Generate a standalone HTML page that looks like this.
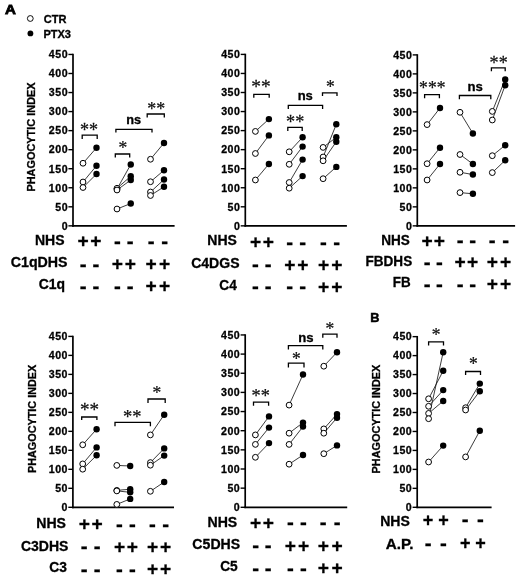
<!DOCTYPE html>
<html><head><meta charset="utf-8"><title>Figure</title>
<style>html,body{margin:0;padding:0;background:#fff}svg{display:block}</style></head>
<body><svg width="520" height="576" viewBox="0 0 520 576">
<defs><filter id="soft" x="0" y="0" width="520" height="576" filterUnits="userSpaceOnUse"><feGaussianBlur stdDeviation="0.4"/></filter></defs>
<rect width="520" height="576" fill="#fff"/>
<g filter="url(#soft)">
<line x1="73.00" y1="53.75" x2="73.00" y2="226.70" stroke="#000" stroke-width="1.7" stroke-linecap="butt"/>
<line x1="72.15" y1="225.85" x2="174.60" y2="225.85" stroke="#000" stroke-width="1.7" stroke-linecap="butt"/>
<line x1="68.40" y1="225.85" x2="73.00" y2="225.85" stroke="#000" stroke-width="1.4" stroke-linecap="butt"/>
<text x="61.64" y="229.65" font-size="10.6" letter-spacing="0.5" font-family="Liberation Sans, Arial, Helvetica, sans-serif" font-weight="bold" fill="#000" stroke="#000" stroke-width="0.3">0</text>
<line x1="68.40" y1="206.81" x2="73.00" y2="206.81" stroke="#000" stroke-width="1.4" stroke-linecap="butt"/>
<text x="55.26" y="210.61" font-size="10.6" letter-spacing="0.5" font-family="Liberation Sans, Arial, Helvetica, sans-serif" font-weight="bold" fill="#000" stroke="#000" stroke-width="0.3">50</text>
<line x1="68.40" y1="187.76" x2="73.00" y2="187.76" stroke="#000" stroke-width="1.4" stroke-linecap="butt"/>
<text x="48.87" y="191.56" font-size="10.6" letter-spacing="0.5" font-family="Liberation Sans, Arial, Helvetica, sans-serif" font-weight="bold" fill="#000" stroke="#000" stroke-width="0.3">100</text>
<line x1="68.40" y1="168.72" x2="73.00" y2="168.72" stroke="#000" stroke-width="1.4" stroke-linecap="butt"/>
<text x="48.87" y="172.52" font-size="10.6" letter-spacing="0.5" font-family="Liberation Sans, Arial, Helvetica, sans-serif" font-weight="bold" fill="#000" stroke="#000" stroke-width="0.3">150</text>
<line x1="68.40" y1="149.67" x2="73.00" y2="149.67" stroke="#000" stroke-width="1.4" stroke-linecap="butt"/>
<text x="48.87" y="153.47" font-size="10.6" letter-spacing="0.5" font-family="Liberation Sans, Arial, Helvetica, sans-serif" font-weight="bold" fill="#000" stroke="#000" stroke-width="0.3">200</text>
<line x1="68.40" y1="130.63" x2="73.00" y2="130.63" stroke="#000" stroke-width="1.4" stroke-linecap="butt"/>
<text x="48.87" y="134.43" font-size="10.6" letter-spacing="0.5" font-family="Liberation Sans, Arial, Helvetica, sans-serif" font-weight="bold" fill="#000" stroke="#000" stroke-width="0.3">250</text>
<line x1="68.40" y1="111.58" x2="73.00" y2="111.58" stroke="#000" stroke-width="1.4" stroke-linecap="butt"/>
<text x="48.87" y="115.38" font-size="10.6" letter-spacing="0.5" font-family="Liberation Sans, Arial, Helvetica, sans-serif" font-weight="bold" fill="#000" stroke="#000" stroke-width="0.3">300</text>
<line x1="68.40" y1="92.54" x2="73.00" y2="92.54" stroke="#000" stroke-width="1.4" stroke-linecap="butt"/>
<text x="48.87" y="96.34" font-size="10.6" letter-spacing="0.5" font-family="Liberation Sans, Arial, Helvetica, sans-serif" font-weight="bold" fill="#000" stroke="#000" stroke-width="0.3">350</text>
<line x1="68.40" y1="73.49" x2="73.00" y2="73.49" stroke="#000" stroke-width="1.4" stroke-linecap="butt"/>
<text x="48.87" y="77.29" font-size="10.6" letter-spacing="0.5" font-family="Liberation Sans, Arial, Helvetica, sans-serif" font-weight="bold" fill="#000" stroke="#000" stroke-width="0.3">400</text>
<line x1="68.40" y1="54.45" x2="73.00" y2="54.45" stroke="#000" stroke-width="1.4" stroke-linecap="butt"/>
<text x="48.87" y="58.25" font-size="10.6" letter-spacing="0.5" font-family="Liberation Sans, Arial, Helvetica, sans-serif" font-weight="bold" fill="#000" stroke="#000" stroke-width="0.3">450</text>
<text transform="translate(35.10,191.61) rotate(-90) scale(1.051,1)" font-size="10.4" font-family="Liberation Sans, Arial, Helvetica, sans-serif" font-weight="bold" fill="#000" stroke="#000" stroke-width="0.3">PHAGOCYTIC INDEX</text>
<line x1="83.00" y1="163.25" x2="96.50" y2="147.75" stroke="#1a1a1a" stroke-width="0.85" stroke-linecap="butt"/>
<line x1="83.00" y1="182.00" x2="96.50" y2="165.75" stroke="#1a1a1a" stroke-width="0.85" stroke-linecap="butt"/>
<line x1="83.00" y1="187.50" x2="96.50" y2="174.00" stroke="#1a1a1a" stroke-width="0.85" stroke-linecap="butt"/>
<circle cx="83.00" cy="163.25" r="2.90" fill="#fff" stroke="#000" stroke-width="1.0"/>
<circle cx="83.00" cy="182.00" r="2.90" fill="#fff" stroke="#000" stroke-width="1.0"/>
<circle cx="83.00" cy="187.50" r="2.90" fill="#fff" stroke="#000" stroke-width="1.0"/>
<circle cx="96.50" cy="147.75" r="3.20" fill="#000"/>
<circle cx="96.50" cy="165.75" r="3.20" fill="#000"/>
<circle cx="96.50" cy="174.00" r="3.20" fill="#000"/>
<line x1="117.00" y1="189.00" x2="130.75" y2="164.50" stroke="#1a1a1a" stroke-width="0.85" stroke-linecap="butt"/>
<line x1="117.00" y1="188.30" x2="130.75" y2="176.25" stroke="#1a1a1a" stroke-width="0.85" stroke-linecap="butt"/>
<line x1="117.00" y1="190.00" x2="130.75" y2="180.00" stroke="#1a1a1a" stroke-width="0.85" stroke-linecap="butt"/>
<line x1="117.00" y1="209.00" x2="130.75" y2="203.50" stroke="#1a1a1a" stroke-width="0.85" stroke-linecap="butt"/>
<circle cx="117.00" cy="189.00" r="2.90" fill="#fff" stroke="#000" stroke-width="1.0"/>
<circle cx="117.00" cy="188.30" r="2.90" fill="#fff" stroke="#000" stroke-width="1.0"/>
<circle cx="117.00" cy="190.00" r="2.90" fill="#fff" stroke="#000" stroke-width="1.0"/>
<circle cx="117.00" cy="209.00" r="2.90" fill="#fff" stroke="#000" stroke-width="1.0"/>
<circle cx="130.75" cy="164.50" r="3.20" fill="#000"/>
<circle cx="130.75" cy="176.25" r="3.20" fill="#000"/>
<circle cx="130.75" cy="180.00" r="3.20" fill="#000"/>
<circle cx="130.75" cy="203.50" r="3.20" fill="#000"/>
<line x1="150.50" y1="159.25" x2="164.00" y2="143.00" stroke="#1a1a1a" stroke-width="0.85" stroke-linecap="butt"/>
<line x1="150.50" y1="181.75" x2="164.00" y2="170.25" stroke="#1a1a1a" stroke-width="0.85" stroke-linecap="butt"/>
<line x1="150.50" y1="192.00" x2="164.00" y2="179.50" stroke="#1a1a1a" stroke-width="0.85" stroke-linecap="butt"/>
<line x1="150.50" y1="195.50" x2="164.00" y2="186.75" stroke="#1a1a1a" stroke-width="0.85" stroke-linecap="butt"/>
<circle cx="150.50" cy="159.25" r="2.90" fill="#fff" stroke="#000" stroke-width="1.0"/>
<circle cx="150.50" cy="181.75" r="2.90" fill="#fff" stroke="#000" stroke-width="1.0"/>
<circle cx="150.50" cy="192.00" r="2.90" fill="#fff" stroke="#000" stroke-width="1.0"/>
<circle cx="150.50" cy="195.50" r="2.90" fill="#fff" stroke="#000" stroke-width="1.0"/>
<circle cx="164.00" cy="143.00" r="3.20" fill="#000"/>
<circle cx="164.00" cy="170.25" r="3.20" fill="#000"/>
<circle cx="164.00" cy="179.50" r="3.20" fill="#000"/>
<circle cx="164.00" cy="186.75" r="3.20" fill="#000"/>
<path d="M82.20,139.00 V135.20 H97.20 V139.00" fill="none" stroke="#000" stroke-width="1.3" stroke-linejoin="miter"/>
<text transform="translate(79.99,136.06) scale(1.006,1)" font-size="18" font-family="Liberation Serif, Times New Roman, serif" fill="#111" stroke="#111" stroke-width="0.25">**</text>
<path d="M115.30,157.60 V154.00 H129.70 V157.60" fill="none" stroke="#000" stroke-width="1.3" stroke-linejoin="miter"/>
<text transform="translate(118.47,153.96) scale(0.972,1)" font-size="18" font-family="Liberation Serif, Times New Roman, serif" fill="#111" stroke="#111" stroke-width="0.25">*</text>
<path d="M115.90,132.60 V129.40 H152.00 V132.60" fill="none" stroke="#000" stroke-width="1.3" stroke-linejoin="miter"/>
<text transform="translate(126.17,123.50) scale(1.061,1)" font-size="12.0" font-family="Liberation Sans, Arial, Helvetica, sans-serif" font-weight="bold" fill="#000" stroke="#000" stroke-width="0.3">ns</text>
<path d="M147.20,117.40 V114.00 H164.30 V117.40" fill="none" stroke="#000" stroke-width="1.3" stroke-linejoin="miter"/>
<text transform="translate(147.31,114.75) scale(0.994,1)" font-size="18" font-family="Liberation Serif, Times New Roman, serif" fill="#111" stroke="#111" stroke-width="0.25">**</text>
<text transform="translate(34.99,244.80) scale(1.009,1)" font-size="13.9" font-family="Liberation Sans, Arial, Helvetica, sans-serif" font-weight="bold" fill="#000" stroke="#000" stroke-width="0.3">NHS</text>
<text transform="translate(10.73,267.30) scale(1.023,1)" font-size="13.9" font-family="Liberation Sans, Arial, Helvetica, sans-serif" font-weight="bold" fill="#000" stroke="#000" stroke-width="0.3">C1qDHS</text>
<text transform="translate(38.64,289.20) scale(1.004,1)" font-size="13.9" font-family="Liberation Sans, Arial, Helvetica, sans-serif" font-weight="bold" fill="#000" stroke="#000" stroke-width="0.3">C1q</text>
<text transform="translate(77.58,247.44) scale(1.000,1)" font-size="19.2" font-family="Liberation Sans, Arial, Helvetica, sans-serif" font-weight="bold" fill="#000" stroke="#000" stroke-width="0.3">+</text>
<text transform="translate(90.28,247.44) scale(1.000,1)" font-size="19.2" font-family="Liberation Sans, Arial, Helvetica, sans-serif" font-weight="bold" fill="#000" stroke="#000" stroke-width="0.3">+</text>
<text transform="translate(113.97,248.03) scale(1.000,1)" font-size="20.5" font-family="Liberation Sans, Arial, Helvetica, sans-serif" font-weight="bold" fill="#000" stroke="#000" stroke-width="0.3">-</text>
<text transform="translate(126.87,248.03) scale(1.000,1)" font-size="20.5" font-family="Liberation Sans, Arial, Helvetica, sans-serif" font-weight="bold" fill="#000" stroke="#000" stroke-width="0.3">-</text>
<text transform="translate(147.77,248.03) scale(1.000,1)" font-size="20.5" font-family="Liberation Sans, Arial, Helvetica, sans-serif" font-weight="bold" fill="#000" stroke="#000" stroke-width="0.3">-</text>
<text transform="translate(161.27,248.03) scale(1.000,1)" font-size="20.5" font-family="Liberation Sans, Arial, Helvetica, sans-serif" font-weight="bold" fill="#000" stroke="#000" stroke-width="0.3">-</text>
<text transform="translate(79.77,270.93) scale(1.000,1)" font-size="20.5" font-family="Liberation Sans, Arial, Helvetica, sans-serif" font-weight="bold" fill="#000" stroke="#000" stroke-width="0.3">-</text>
<text transform="translate(92.47,270.93) scale(1.000,1)" font-size="20.5" font-family="Liberation Sans, Arial, Helvetica, sans-serif" font-weight="bold" fill="#000" stroke="#000" stroke-width="0.3">-</text>
<text transform="translate(111.78,270.34) scale(1.000,1)" font-size="19.2" font-family="Liberation Sans, Arial, Helvetica, sans-serif" font-weight="bold" fill="#000" stroke="#000" stroke-width="0.3">+</text>
<text transform="translate(124.68,270.34) scale(1.000,1)" font-size="19.2" font-family="Liberation Sans, Arial, Helvetica, sans-serif" font-weight="bold" fill="#000" stroke="#000" stroke-width="0.3">+</text>
<text transform="translate(145.58,270.34) scale(1.000,1)" font-size="19.2" font-family="Liberation Sans, Arial, Helvetica, sans-serif" font-weight="bold" fill="#000" stroke="#000" stroke-width="0.3">+</text>
<text transform="translate(159.08,270.34) scale(1.000,1)" font-size="19.2" font-family="Liberation Sans, Arial, Helvetica, sans-serif" font-weight="bold" fill="#000" stroke="#000" stroke-width="0.3">+</text>
<text transform="translate(79.77,292.93) scale(1.000,1)" font-size="20.5" font-family="Liberation Sans, Arial, Helvetica, sans-serif" font-weight="bold" fill="#000" stroke="#000" stroke-width="0.3">-</text>
<text transform="translate(92.47,292.93) scale(1.000,1)" font-size="20.5" font-family="Liberation Sans, Arial, Helvetica, sans-serif" font-weight="bold" fill="#000" stroke="#000" stroke-width="0.3">-</text>
<text transform="translate(113.97,292.93) scale(1.000,1)" font-size="20.5" font-family="Liberation Sans, Arial, Helvetica, sans-serif" font-weight="bold" fill="#000" stroke="#000" stroke-width="0.3">-</text>
<text transform="translate(126.87,292.93) scale(1.000,1)" font-size="20.5" font-family="Liberation Sans, Arial, Helvetica, sans-serif" font-weight="bold" fill="#000" stroke="#000" stroke-width="0.3">-</text>
<text transform="translate(145.58,292.34) scale(1.000,1)" font-size="19.2" font-family="Liberation Sans, Arial, Helvetica, sans-serif" font-weight="bold" fill="#000" stroke="#000" stroke-width="0.3">+</text>
<text transform="translate(159.08,292.34) scale(1.000,1)" font-size="19.2" font-family="Liberation Sans, Arial, Helvetica, sans-serif" font-weight="bold" fill="#000" stroke="#000" stroke-width="0.3">+</text>
<line x1="245.30" y1="53.70" x2="245.30" y2="226.70" stroke="#000" stroke-width="1.7" stroke-linecap="butt"/>
<line x1="244.45" y1="225.85" x2="346.90" y2="225.85" stroke="#000" stroke-width="1.7" stroke-linecap="butt"/>
<line x1="240.70" y1="225.85" x2="245.30" y2="225.85" stroke="#000" stroke-width="1.4" stroke-linecap="butt"/>
<text x="233.94" y="229.65" font-size="10.6" letter-spacing="0.5" font-family="Liberation Sans, Arial, Helvetica, sans-serif" font-weight="bold" fill="#000" stroke="#000" stroke-width="0.3">0</text>
<line x1="240.70" y1="206.80" x2="245.30" y2="206.80" stroke="#000" stroke-width="1.4" stroke-linecap="butt"/>
<text x="227.56" y="210.60" font-size="10.6" letter-spacing="0.5" font-family="Liberation Sans, Arial, Helvetica, sans-serif" font-weight="bold" fill="#000" stroke="#000" stroke-width="0.3">50</text>
<line x1="240.70" y1="187.75" x2="245.30" y2="187.75" stroke="#000" stroke-width="1.4" stroke-linecap="butt"/>
<text x="221.18" y="191.55" font-size="10.6" letter-spacing="0.5" font-family="Liberation Sans, Arial, Helvetica, sans-serif" font-weight="bold" fill="#000" stroke="#000" stroke-width="0.3">100</text>
<line x1="240.70" y1="168.70" x2="245.30" y2="168.70" stroke="#000" stroke-width="1.4" stroke-linecap="butt"/>
<text x="221.18" y="172.50" font-size="10.6" letter-spacing="0.5" font-family="Liberation Sans, Arial, Helvetica, sans-serif" font-weight="bold" fill="#000" stroke="#000" stroke-width="0.3">150</text>
<line x1="240.70" y1="149.65" x2="245.30" y2="149.65" stroke="#000" stroke-width="1.4" stroke-linecap="butt"/>
<text x="221.17" y="153.45" font-size="10.6" letter-spacing="0.5" font-family="Liberation Sans, Arial, Helvetica, sans-serif" font-weight="bold" fill="#000" stroke="#000" stroke-width="0.3">200</text>
<line x1="240.70" y1="130.60" x2="245.30" y2="130.60" stroke="#000" stroke-width="1.4" stroke-linecap="butt"/>
<text x="221.17" y="134.40" font-size="10.6" letter-spacing="0.5" font-family="Liberation Sans, Arial, Helvetica, sans-serif" font-weight="bold" fill="#000" stroke="#000" stroke-width="0.3">250</text>
<line x1="240.70" y1="111.55" x2="245.30" y2="111.55" stroke="#000" stroke-width="1.4" stroke-linecap="butt"/>
<text x="221.18" y="115.35" font-size="10.6" letter-spacing="0.5" font-family="Liberation Sans, Arial, Helvetica, sans-serif" font-weight="bold" fill="#000" stroke="#000" stroke-width="0.3">300</text>
<line x1="240.70" y1="92.50" x2="245.30" y2="92.50" stroke="#000" stroke-width="1.4" stroke-linecap="butt"/>
<text x="221.18" y="96.30" font-size="10.6" letter-spacing="0.5" font-family="Liberation Sans, Arial, Helvetica, sans-serif" font-weight="bold" fill="#000" stroke="#000" stroke-width="0.3">350</text>
<line x1="240.70" y1="73.45" x2="245.30" y2="73.45" stroke="#000" stroke-width="1.4" stroke-linecap="butt"/>
<text x="221.18" y="77.25" font-size="10.6" letter-spacing="0.5" font-family="Liberation Sans, Arial, Helvetica, sans-serif" font-weight="bold" fill="#000" stroke="#000" stroke-width="0.3">400</text>
<line x1="240.70" y1="54.40" x2="245.30" y2="54.40" stroke="#000" stroke-width="1.4" stroke-linecap="butt"/>
<text x="221.18" y="58.20" font-size="10.6" letter-spacing="0.5" font-family="Liberation Sans, Arial, Helvetica, sans-serif" font-weight="bold" fill="#000" stroke="#000" stroke-width="0.3">450</text>
<line x1="255.40" y1="131.40" x2="268.90" y2="119.10" stroke="#1a1a1a" stroke-width="0.85" stroke-linecap="butt"/>
<line x1="255.40" y1="153.50" x2="268.90" y2="135.40" stroke="#1a1a1a" stroke-width="0.85" stroke-linecap="butt"/>
<line x1="255.40" y1="180.00" x2="268.90" y2="164.00" stroke="#1a1a1a" stroke-width="0.85" stroke-linecap="butt"/>
<circle cx="255.40" cy="131.40" r="2.90" fill="#fff" stroke="#000" stroke-width="1.0"/>
<circle cx="255.40" cy="153.50" r="2.90" fill="#fff" stroke="#000" stroke-width="1.0"/>
<circle cx="255.40" cy="180.00" r="2.90" fill="#fff" stroke="#000" stroke-width="1.0"/>
<circle cx="268.90" cy="119.10" r="3.20" fill="#000"/>
<circle cx="268.90" cy="135.40" r="3.20" fill="#000"/>
<circle cx="268.90" cy="164.00" r="3.20" fill="#000"/>
<line x1="289.20" y1="151.80" x2="302.60" y2="137.30" stroke="#1a1a1a" stroke-width="0.85" stroke-linecap="butt"/>
<line x1="289.20" y1="164.30" x2="302.60" y2="146.60" stroke="#1a1a1a" stroke-width="0.85" stroke-linecap="butt"/>
<line x1="289.20" y1="182.50" x2="302.60" y2="159.60" stroke="#1a1a1a" stroke-width="0.85" stroke-linecap="butt"/>
<line x1="289.20" y1="188.20" x2="302.60" y2="176.10" stroke="#1a1a1a" stroke-width="0.85" stroke-linecap="butt"/>
<circle cx="289.20" cy="151.80" r="2.90" fill="#fff" stroke="#000" stroke-width="1.0"/>
<circle cx="289.20" cy="164.30" r="2.90" fill="#fff" stroke="#000" stroke-width="1.0"/>
<circle cx="289.20" cy="182.50" r="2.90" fill="#fff" stroke="#000" stroke-width="1.0"/>
<circle cx="289.20" cy="188.20" r="2.90" fill="#fff" stroke="#000" stroke-width="1.0"/>
<circle cx="302.60" cy="137.30" r="3.20" fill="#000"/>
<circle cx="302.60" cy="146.60" r="3.20" fill="#000"/>
<circle cx="302.60" cy="159.60" r="3.20" fill="#000"/>
<circle cx="302.60" cy="176.10" r="3.20" fill="#000"/>
<line x1="323.10" y1="147.40" x2="336.30" y2="137.30" stroke="#1a1a1a" stroke-width="0.85" stroke-linecap="butt"/>
<line x1="323.10" y1="157.00" x2="336.30" y2="124.30" stroke="#1a1a1a" stroke-width="0.85" stroke-linecap="butt"/>
<line x1="323.10" y1="160.80" x2="336.30" y2="141.70" stroke="#1a1a1a" stroke-width="0.85" stroke-linecap="butt"/>
<line x1="323.10" y1="178.70" x2="336.30" y2="166.90" stroke="#1a1a1a" stroke-width="0.85" stroke-linecap="butt"/>
<circle cx="323.10" cy="147.40" r="2.90" fill="#fff" stroke="#000" stroke-width="1.0"/>
<circle cx="323.10" cy="157.00" r="2.90" fill="#fff" stroke="#000" stroke-width="1.0"/>
<circle cx="323.10" cy="160.80" r="2.90" fill="#fff" stroke="#000" stroke-width="1.0"/>
<circle cx="323.10" cy="178.70" r="2.90" fill="#fff" stroke="#000" stroke-width="1.0"/>
<circle cx="336.30" cy="137.30" r="3.20" fill="#000"/>
<circle cx="336.30" cy="124.30" r="3.20" fill="#000"/>
<circle cx="336.30" cy="141.70" r="3.20" fill="#000"/>
<circle cx="336.30" cy="166.90" r="3.20" fill="#000"/>
<path d="M253.80,97.70 V94.30 H269.20 V97.70" fill="none" stroke="#000" stroke-width="1.3" stroke-linejoin="miter"/>
<text transform="translate(251.33,93.20) scale(1.080,1)" font-size="18" font-family="Liberation Serif, Times New Roman, serif" fill="#111" stroke="#111" stroke-width="0.25">**</text>
<path d="M288.30,109.00 V105.40 H322.60 V109.00" fill="none" stroke="#000" stroke-width="1.3" stroke-linejoin="miter"/>
<text transform="translate(297.65,99.60) scale(1.085,1)" font-size="12.0" font-family="Liberation Sans, Arial, Helvetica, sans-serif" font-weight="bold" fill="#000" stroke="#000" stroke-width="0.3">ns</text>
<path d="M287.80,131.00 V127.30 H302.20 V131.00" fill="none" stroke="#000" stroke-width="1.3" stroke-linejoin="miter"/>
<text transform="translate(286.09,127.56) scale(1.012,1)" font-size="18" font-family="Liberation Serif, Times New Roman, serif" fill="#111" stroke="#111" stroke-width="0.25">**</text>
<path d="M322.50,96.10 V92.80 H337.00 V96.10" fill="none" stroke="#000" stroke-width="1.3" stroke-linejoin="miter"/>
<text transform="translate(325.88,93.20) scale(0.972,1)" font-size="18" font-family="Liberation Serif, Times New Roman, serif" fill="#111" stroke="#111" stroke-width="0.25">*</text>
<text transform="translate(207.29,244.80) scale(1.009,1)" font-size="13.9" font-family="Liberation Sans, Arial, Helvetica, sans-serif" font-weight="bold" fill="#000" stroke="#000" stroke-width="0.3">NHS</text>
<text transform="translate(191.14,267.70) scale(1.012,1)" font-size="13.9" font-family="Liberation Sans, Arial, Helvetica, sans-serif" font-weight="bold" fill="#000" stroke="#000" stroke-width="0.3">C4DGS</text>
<text transform="translate(219.35,289.50) scale(0.983,1)" font-size="13.9" font-family="Liberation Sans, Arial, Helvetica, sans-serif" font-weight="bold" fill="#000" stroke="#000" stroke-width="0.3">C4</text>
<text transform="translate(249.88,247.94) scale(1.000,1)" font-size="19.2" font-family="Liberation Sans, Arial, Helvetica, sans-serif" font-weight="bold" fill="#000" stroke="#000" stroke-width="0.3">+</text>
<text transform="translate(262.68,247.94) scale(1.000,1)" font-size="19.2" font-family="Liberation Sans, Arial, Helvetica, sans-serif" font-weight="bold" fill="#000" stroke="#000" stroke-width="0.3">+</text>
<text transform="translate(286.37,248.53) scale(1.000,1)" font-size="20.5" font-family="Liberation Sans, Arial, Helvetica, sans-serif" font-weight="bold" fill="#000" stroke="#000" stroke-width="0.3">-</text>
<text transform="translate(299.37,248.53) scale(1.000,1)" font-size="20.5" font-family="Liberation Sans, Arial, Helvetica, sans-serif" font-weight="bold" fill="#000" stroke="#000" stroke-width="0.3">-</text>
<text transform="translate(320.07,248.53) scale(1.000,1)" font-size="20.5" font-family="Liberation Sans, Arial, Helvetica, sans-serif" font-weight="bold" fill="#000" stroke="#000" stroke-width="0.3">-</text>
<text transform="translate(333.37,248.53) scale(1.000,1)" font-size="20.5" font-family="Liberation Sans, Arial, Helvetica, sans-serif" font-weight="bold" fill="#000" stroke="#000" stroke-width="0.3">-</text>
<text transform="translate(252.07,271.43) scale(1.000,1)" font-size="20.5" font-family="Liberation Sans, Arial, Helvetica, sans-serif" font-weight="bold" fill="#000" stroke="#000" stroke-width="0.3">-</text>
<text transform="translate(264.87,271.43) scale(1.000,1)" font-size="20.5" font-family="Liberation Sans, Arial, Helvetica, sans-serif" font-weight="bold" fill="#000" stroke="#000" stroke-width="0.3">-</text>
<text transform="translate(284.18,270.84) scale(1.000,1)" font-size="19.2" font-family="Liberation Sans, Arial, Helvetica, sans-serif" font-weight="bold" fill="#000" stroke="#000" stroke-width="0.3">+</text>
<text transform="translate(297.18,270.84) scale(1.000,1)" font-size="19.2" font-family="Liberation Sans, Arial, Helvetica, sans-serif" font-weight="bold" fill="#000" stroke="#000" stroke-width="0.3">+</text>
<text transform="translate(317.88,270.84) scale(1.000,1)" font-size="19.2" font-family="Liberation Sans, Arial, Helvetica, sans-serif" font-weight="bold" fill="#000" stroke="#000" stroke-width="0.3">+</text>
<text transform="translate(331.18,270.84) scale(1.000,1)" font-size="19.2" font-family="Liberation Sans, Arial, Helvetica, sans-serif" font-weight="bold" fill="#000" stroke="#000" stroke-width="0.3">+</text>
<text transform="translate(252.07,293.43) scale(1.000,1)" font-size="20.5" font-family="Liberation Sans, Arial, Helvetica, sans-serif" font-weight="bold" fill="#000" stroke="#000" stroke-width="0.3">-</text>
<text transform="translate(264.87,293.43) scale(1.000,1)" font-size="20.5" font-family="Liberation Sans, Arial, Helvetica, sans-serif" font-weight="bold" fill="#000" stroke="#000" stroke-width="0.3">-</text>
<text transform="translate(286.37,293.43) scale(1.000,1)" font-size="20.5" font-family="Liberation Sans, Arial, Helvetica, sans-serif" font-weight="bold" fill="#000" stroke="#000" stroke-width="0.3">-</text>
<text transform="translate(299.37,293.43) scale(1.000,1)" font-size="20.5" font-family="Liberation Sans, Arial, Helvetica, sans-serif" font-weight="bold" fill="#000" stroke="#000" stroke-width="0.3">-</text>
<text transform="translate(317.88,292.84) scale(1.000,1)" font-size="19.2" font-family="Liberation Sans, Arial, Helvetica, sans-serif" font-weight="bold" fill="#000" stroke="#000" stroke-width="0.3">+</text>
<text transform="translate(331.18,292.84) scale(1.000,1)" font-size="19.2" font-family="Liberation Sans, Arial, Helvetica, sans-serif" font-weight="bold" fill="#000" stroke="#000" stroke-width="0.3">+</text>
<line x1="417.30" y1="54.20" x2="417.30" y2="226.70" stroke="#000" stroke-width="1.7" stroke-linecap="butt"/>
<line x1="416.45" y1="225.85" x2="515.10" y2="225.85" stroke="#000" stroke-width="1.7" stroke-linecap="butt"/>
<line x1="412.70" y1="225.85" x2="417.30" y2="225.85" stroke="#000" stroke-width="1.4" stroke-linecap="butt"/>
<text x="405.94" y="229.65" font-size="10.6" letter-spacing="0.5" font-family="Liberation Sans, Arial, Helvetica, sans-serif" font-weight="bold" fill="#000" stroke="#000" stroke-width="0.3">0</text>
<line x1="412.70" y1="206.86" x2="417.30" y2="206.86" stroke="#000" stroke-width="1.4" stroke-linecap="butt"/>
<text x="399.56" y="210.66" font-size="10.6" letter-spacing="0.5" font-family="Liberation Sans, Arial, Helvetica, sans-serif" font-weight="bold" fill="#000" stroke="#000" stroke-width="0.3">50</text>
<line x1="412.70" y1="187.86" x2="417.30" y2="187.86" stroke="#000" stroke-width="1.4" stroke-linecap="butt"/>
<text x="393.18" y="191.66" font-size="10.6" letter-spacing="0.5" font-family="Liberation Sans, Arial, Helvetica, sans-serif" font-weight="bold" fill="#000" stroke="#000" stroke-width="0.3">100</text>
<line x1="412.70" y1="168.87" x2="417.30" y2="168.87" stroke="#000" stroke-width="1.4" stroke-linecap="butt"/>
<text x="393.18" y="172.67" font-size="10.6" letter-spacing="0.5" font-family="Liberation Sans, Arial, Helvetica, sans-serif" font-weight="bold" fill="#000" stroke="#000" stroke-width="0.3">150</text>
<line x1="412.70" y1="149.87" x2="417.30" y2="149.87" stroke="#000" stroke-width="1.4" stroke-linecap="butt"/>
<text x="393.18" y="153.67" font-size="10.6" letter-spacing="0.5" font-family="Liberation Sans, Arial, Helvetica, sans-serif" font-weight="bold" fill="#000" stroke="#000" stroke-width="0.3">200</text>
<line x1="412.70" y1="130.88" x2="417.30" y2="130.88" stroke="#000" stroke-width="1.4" stroke-linecap="butt"/>
<text x="393.18" y="134.68" font-size="10.6" letter-spacing="0.5" font-family="Liberation Sans, Arial, Helvetica, sans-serif" font-weight="bold" fill="#000" stroke="#000" stroke-width="0.3">250</text>
<line x1="412.70" y1="111.88" x2="417.30" y2="111.88" stroke="#000" stroke-width="1.4" stroke-linecap="butt"/>
<text x="393.18" y="115.68" font-size="10.6" letter-spacing="0.5" font-family="Liberation Sans, Arial, Helvetica, sans-serif" font-weight="bold" fill="#000" stroke="#000" stroke-width="0.3">300</text>
<line x1="412.70" y1="92.89" x2="417.30" y2="92.89" stroke="#000" stroke-width="1.4" stroke-linecap="butt"/>
<text x="393.18" y="96.69" font-size="10.6" letter-spacing="0.5" font-family="Liberation Sans, Arial, Helvetica, sans-serif" font-weight="bold" fill="#000" stroke="#000" stroke-width="0.3">350</text>
<line x1="412.70" y1="73.89" x2="417.30" y2="73.89" stroke="#000" stroke-width="1.4" stroke-linecap="butt"/>
<text x="393.18" y="77.69" font-size="10.6" letter-spacing="0.5" font-family="Liberation Sans, Arial, Helvetica, sans-serif" font-weight="bold" fill="#000" stroke="#000" stroke-width="0.3">400</text>
<line x1="412.70" y1="54.90" x2="417.30" y2="54.90" stroke="#000" stroke-width="1.4" stroke-linecap="butt"/>
<text x="393.18" y="58.70" font-size="10.6" letter-spacing="0.5" font-family="Liberation Sans, Arial, Helvetica, sans-serif" font-weight="bold" fill="#000" stroke="#000" stroke-width="0.3">450</text>
<line x1="427.10" y1="124.60" x2="440.00" y2="108.00" stroke="#1a1a1a" stroke-width="0.85" stroke-linecap="butt"/>
<line x1="427.10" y1="163.70" x2="440.00" y2="147.70" stroke="#1a1a1a" stroke-width="0.85" stroke-linecap="butt"/>
<line x1="427.10" y1="180.00" x2="440.00" y2="164.00" stroke="#1a1a1a" stroke-width="0.85" stroke-linecap="butt"/>
<circle cx="427.10" cy="124.60" r="2.90" fill="#fff" stroke="#000" stroke-width="1.0"/>
<circle cx="427.10" cy="163.70" r="2.90" fill="#fff" stroke="#000" stroke-width="1.0"/>
<circle cx="427.10" cy="180.00" r="2.90" fill="#fff" stroke="#000" stroke-width="1.0"/>
<circle cx="440.00" cy="108.00" r="3.20" fill="#000"/>
<circle cx="440.00" cy="147.70" r="3.20" fill="#000"/>
<circle cx="440.00" cy="164.00" r="3.20" fill="#000"/>
<line x1="460.00" y1="112.30" x2="472.90" y2="133.50" stroke="#1a1a1a" stroke-width="0.85" stroke-linecap="butt"/>
<line x1="460.00" y1="154.50" x2="472.90" y2="164.00" stroke="#1a1a1a" stroke-width="0.85" stroke-linecap="butt"/>
<line x1="460.00" y1="172.30" x2="472.90" y2="174.50" stroke="#1a1a1a" stroke-width="0.85" stroke-linecap="butt"/>
<line x1="460.00" y1="192.60" x2="472.90" y2="193.80" stroke="#1a1a1a" stroke-width="0.85" stroke-linecap="butt"/>
<circle cx="460.00" cy="112.30" r="2.90" fill="#fff" stroke="#000" stroke-width="1.0"/>
<circle cx="460.00" cy="154.50" r="2.90" fill="#fff" stroke="#000" stroke-width="1.0"/>
<circle cx="460.00" cy="172.30" r="2.90" fill="#fff" stroke="#000" stroke-width="1.0"/>
<circle cx="460.00" cy="192.60" r="2.90" fill="#fff" stroke="#000" stroke-width="1.0"/>
<circle cx="472.90" cy="133.50" r="3.20" fill="#000"/>
<circle cx="472.90" cy="164.00" r="3.20" fill="#000"/>
<circle cx="472.90" cy="174.50" r="3.20" fill="#000"/>
<circle cx="472.90" cy="193.80" r="3.20" fill="#000"/>
<line x1="492.30" y1="111.40" x2="505.20" y2="79.40" stroke="#1a1a1a" stroke-width="0.85" stroke-linecap="butt"/>
<line x1="492.30" y1="120.00" x2="505.20" y2="85.20" stroke="#1a1a1a" stroke-width="0.85" stroke-linecap="butt"/>
<line x1="492.30" y1="155.70" x2="505.20" y2="145.20" stroke="#1a1a1a" stroke-width="0.85" stroke-linecap="butt"/>
<line x1="492.30" y1="172.60" x2="505.20" y2="160.30" stroke="#1a1a1a" stroke-width="0.85" stroke-linecap="butt"/>
<circle cx="492.30" cy="111.40" r="2.90" fill="#fff" stroke="#000" stroke-width="1.0"/>
<circle cx="492.30" cy="120.00" r="2.90" fill="#fff" stroke="#000" stroke-width="1.0"/>
<circle cx="492.30" cy="155.70" r="2.90" fill="#fff" stroke="#000" stroke-width="1.0"/>
<circle cx="492.30" cy="172.60" r="2.90" fill="#fff" stroke="#000" stroke-width="1.0"/>
<circle cx="505.20" cy="79.40" r="3.20" fill="#000"/>
<circle cx="505.20" cy="85.20" r="3.20" fill="#000"/>
<circle cx="505.20" cy="145.20" r="3.20" fill="#000"/>
<circle cx="505.20" cy="160.30" r="3.20" fill="#000"/>
<path d="M424.60,98.20 V94.60 H439.40 V98.20" fill="none" stroke="#000" stroke-width="1.3" stroke-linejoin="miter"/>
<text transform="translate(419.12,94.46) scale(0.976,1)" font-size="18" font-family="Liberation Serif, Times New Roman, serif" fill="#111" stroke="#111" stroke-width="0.25">***</text>
<path d="M459.40,99.20 V95.50 H490.80 V99.20" fill="none" stroke="#000" stroke-width="1.3" stroke-linejoin="miter"/>
<text transform="translate(467.45,91.20) scale(1.093,1)" font-size="12.0" font-family="Liberation Sans, Arial, Helvetica, sans-serif" font-weight="bold" fill="#000" stroke="#000" stroke-width="0.3">ns</text>
<path d="M491.40,71.20 V67.80 H505.20 V71.20" fill="none" stroke="#000" stroke-width="1.3" stroke-linejoin="miter"/>
<text transform="translate(489.59,68.86) scale(1.006,1)" font-size="18" font-family="Liberation Serif, Times New Roman, serif" fill="#111" stroke="#111" stroke-width="0.25">**</text>
<text transform="translate(381.22,244.70) scale(0.977,1)" font-size="13.9" font-family="Liberation Sans, Arial, Helvetica, sans-serif" font-weight="bold" fill="#000" stroke="#000" stroke-width="0.3">NHS</text>
<text transform="translate(365.52,266.20) scale(0.976,1)" font-size="13.9" font-family="Liberation Sans, Arial, Helvetica, sans-serif" font-weight="bold" fill="#000" stroke="#000" stroke-width="0.3">FBDHS</text>
<text transform="translate(392.83,287.20) scale(0.967,1)" font-size="13.9" font-family="Liberation Sans, Arial, Helvetica, sans-serif" font-weight="bold" fill="#000" stroke="#000" stroke-width="0.3">FB</text>
<text transform="translate(421.58,246.74) scale(1.000,1)" font-size="19.2" font-family="Liberation Sans, Arial, Helvetica, sans-serif" font-weight="bold" fill="#000" stroke="#000" stroke-width="0.3">+</text>
<text transform="translate(433.78,246.74) scale(1.000,1)" font-size="19.2" font-family="Liberation Sans, Arial, Helvetica, sans-serif" font-weight="bold" fill="#000" stroke="#000" stroke-width="0.3">+</text>
<text transform="translate(456.67,247.33) scale(1.000,1)" font-size="20.5" font-family="Liberation Sans, Arial, Helvetica, sans-serif" font-weight="bold" fill="#000" stroke="#000" stroke-width="0.3">-</text>
<text transform="translate(469.17,247.33) scale(1.000,1)" font-size="20.5" font-family="Liberation Sans, Arial, Helvetica, sans-serif" font-weight="bold" fill="#000" stroke="#000" stroke-width="0.3">-</text>
<text transform="translate(488.87,247.33) scale(1.000,1)" font-size="20.5" font-family="Liberation Sans, Arial, Helvetica, sans-serif" font-weight="bold" fill="#000" stroke="#000" stroke-width="0.3">-</text>
<text transform="translate(502.17,247.33) scale(1.000,1)" font-size="20.5" font-family="Liberation Sans, Arial, Helvetica, sans-serif" font-weight="bold" fill="#000" stroke="#000" stroke-width="0.3">-</text>
<text transform="translate(423.77,268.93) scale(1.000,1)" font-size="20.5" font-family="Liberation Sans, Arial, Helvetica, sans-serif" font-weight="bold" fill="#000" stroke="#000" stroke-width="0.3">-</text>
<text transform="translate(435.97,268.93) scale(1.000,1)" font-size="20.5" font-family="Liberation Sans, Arial, Helvetica, sans-serif" font-weight="bold" fill="#000" stroke="#000" stroke-width="0.3">-</text>
<text transform="translate(454.48,268.34) scale(1.000,1)" font-size="19.2" font-family="Liberation Sans, Arial, Helvetica, sans-serif" font-weight="bold" fill="#000" stroke="#000" stroke-width="0.3">+</text>
<text transform="translate(466.98,268.34) scale(1.000,1)" font-size="19.2" font-family="Liberation Sans, Arial, Helvetica, sans-serif" font-weight="bold" fill="#000" stroke="#000" stroke-width="0.3">+</text>
<text transform="translate(486.68,268.34) scale(1.000,1)" font-size="19.2" font-family="Liberation Sans, Arial, Helvetica, sans-serif" font-weight="bold" fill="#000" stroke="#000" stroke-width="0.3">+</text>
<text transform="translate(499.98,268.34) scale(1.000,1)" font-size="19.2" font-family="Liberation Sans, Arial, Helvetica, sans-serif" font-weight="bold" fill="#000" stroke="#000" stroke-width="0.3">+</text>
<text transform="translate(423.77,290.73) scale(1.000,1)" font-size="20.5" font-family="Liberation Sans, Arial, Helvetica, sans-serif" font-weight="bold" fill="#000" stroke="#000" stroke-width="0.3">-</text>
<text transform="translate(435.97,290.73) scale(1.000,1)" font-size="20.5" font-family="Liberation Sans, Arial, Helvetica, sans-serif" font-weight="bold" fill="#000" stroke="#000" stroke-width="0.3">-</text>
<text transform="translate(456.67,290.73) scale(1.000,1)" font-size="20.5" font-family="Liberation Sans, Arial, Helvetica, sans-serif" font-weight="bold" fill="#000" stroke="#000" stroke-width="0.3">-</text>
<text transform="translate(469.17,290.73) scale(1.000,1)" font-size="20.5" font-family="Liberation Sans, Arial, Helvetica, sans-serif" font-weight="bold" fill="#000" stroke="#000" stroke-width="0.3">-</text>
<text transform="translate(486.68,290.14) scale(1.000,1)" font-size="19.2" font-family="Liberation Sans, Arial, Helvetica, sans-serif" font-weight="bold" fill="#000" stroke="#000" stroke-width="0.3">+</text>
<text transform="translate(499.98,290.14) scale(1.000,1)" font-size="19.2" font-family="Liberation Sans, Arial, Helvetica, sans-serif" font-weight="bold" fill="#000" stroke="#000" stroke-width="0.3">+</text>
<line x1="72.90" y1="335.70" x2="72.90" y2="508.15" stroke="#000" stroke-width="1.7" stroke-linecap="butt"/>
<line x1="72.05" y1="507.30" x2="174.00" y2="507.30" stroke="#000" stroke-width="1.7" stroke-linecap="butt"/>
<line x1="68.30" y1="507.30" x2="72.90" y2="507.30" stroke="#000" stroke-width="1.4" stroke-linecap="butt"/>
<text x="61.54" y="511.10" font-size="10.6" letter-spacing="0.5" font-family="Liberation Sans, Arial, Helvetica, sans-serif" font-weight="bold" fill="#000" stroke="#000" stroke-width="0.3">0</text>
<line x1="68.30" y1="488.31" x2="72.90" y2="488.31" stroke="#000" stroke-width="1.4" stroke-linecap="butt"/>
<text x="55.16" y="492.11" font-size="10.6" letter-spacing="0.5" font-family="Liberation Sans, Arial, Helvetica, sans-serif" font-weight="bold" fill="#000" stroke="#000" stroke-width="0.3">50</text>
<line x1="68.30" y1="469.32" x2="72.90" y2="469.32" stroke="#000" stroke-width="1.4" stroke-linecap="butt"/>
<text x="48.77" y="473.12" font-size="10.6" letter-spacing="0.5" font-family="Liberation Sans, Arial, Helvetica, sans-serif" font-weight="bold" fill="#000" stroke="#000" stroke-width="0.3">100</text>
<line x1="68.30" y1="450.33" x2="72.90" y2="450.33" stroke="#000" stroke-width="1.4" stroke-linecap="butt"/>
<text x="48.77" y="454.13" font-size="10.6" letter-spacing="0.5" font-family="Liberation Sans, Arial, Helvetica, sans-serif" font-weight="bold" fill="#000" stroke="#000" stroke-width="0.3">150</text>
<line x1="68.30" y1="431.34" x2="72.90" y2="431.34" stroke="#000" stroke-width="1.4" stroke-linecap="butt"/>
<text x="48.77" y="435.14" font-size="10.6" letter-spacing="0.5" font-family="Liberation Sans, Arial, Helvetica, sans-serif" font-weight="bold" fill="#000" stroke="#000" stroke-width="0.3">200</text>
<line x1="68.30" y1="412.36" x2="72.90" y2="412.36" stroke="#000" stroke-width="1.4" stroke-linecap="butt"/>
<text x="48.77" y="416.16" font-size="10.6" letter-spacing="0.5" font-family="Liberation Sans, Arial, Helvetica, sans-serif" font-weight="bold" fill="#000" stroke="#000" stroke-width="0.3">250</text>
<line x1="68.30" y1="393.37" x2="72.90" y2="393.37" stroke="#000" stroke-width="1.4" stroke-linecap="butt"/>
<text x="48.77" y="397.17" font-size="10.6" letter-spacing="0.5" font-family="Liberation Sans, Arial, Helvetica, sans-serif" font-weight="bold" fill="#000" stroke="#000" stroke-width="0.3">300</text>
<line x1="68.30" y1="374.38" x2="72.90" y2="374.38" stroke="#000" stroke-width="1.4" stroke-linecap="butt"/>
<text x="48.77" y="378.18" font-size="10.6" letter-spacing="0.5" font-family="Liberation Sans, Arial, Helvetica, sans-serif" font-weight="bold" fill="#000" stroke="#000" stroke-width="0.3">350</text>
<line x1="68.30" y1="355.39" x2="72.90" y2="355.39" stroke="#000" stroke-width="1.4" stroke-linecap="butt"/>
<text x="48.77" y="359.19" font-size="10.6" letter-spacing="0.5" font-family="Liberation Sans, Arial, Helvetica, sans-serif" font-weight="bold" fill="#000" stroke="#000" stroke-width="0.3">400</text>
<line x1="68.30" y1="336.40" x2="72.90" y2="336.40" stroke="#000" stroke-width="1.4" stroke-linecap="butt"/>
<text x="48.77" y="340.20" font-size="10.6" letter-spacing="0.5" font-family="Liberation Sans, Arial, Helvetica, sans-serif" font-weight="bold" fill="#000" stroke="#000" stroke-width="0.3">450</text>
<text transform="translate(36.00,473.01) rotate(-90) scale(1.043,1)" font-size="10.4" font-family="Liberation Sans, Arial, Helvetica, sans-serif" font-weight="bold" fill="#000" stroke="#000" stroke-width="0.3">PHAGOCYTIC INDEX</text>
<line x1="82.70" y1="444.80" x2="96.60" y2="429.20" stroke="#1a1a1a" stroke-width="0.85" stroke-linecap="butt"/>
<line x1="82.70" y1="463.90" x2="96.60" y2="447.40" stroke="#1a1a1a" stroke-width="0.85" stroke-linecap="butt"/>
<line x1="82.70" y1="469.20" x2="96.60" y2="455.30" stroke="#1a1a1a" stroke-width="0.85" stroke-linecap="butt"/>
<circle cx="82.70" cy="444.80" r="2.90" fill="#fff" stroke="#000" stroke-width="1.0"/>
<circle cx="82.70" cy="463.90" r="2.90" fill="#fff" stroke="#000" stroke-width="1.0"/>
<circle cx="82.70" cy="469.20" r="2.90" fill="#fff" stroke="#000" stroke-width="1.0"/>
<circle cx="96.60" cy="429.20" r="3.20" fill="#000"/>
<circle cx="96.60" cy="447.40" r="3.20" fill="#000"/>
<circle cx="96.60" cy="455.30" r="3.20" fill="#000"/>
<line x1="116.80" y1="465.40" x2="130.20" y2="466.00" stroke="#1a1a1a" stroke-width="0.85" stroke-linecap="butt"/>
<line x1="116.80" y1="490.40" x2="130.20" y2="489.20" stroke="#1a1a1a" stroke-width="0.85" stroke-linecap="butt"/>
<line x1="116.80" y1="490.90" x2="130.20" y2="492.30" stroke="#1a1a1a" stroke-width="0.85" stroke-linecap="butt"/>
<line x1="116.80" y1="504.40" x2="130.20" y2="498.90" stroke="#1a1a1a" stroke-width="0.85" stroke-linecap="butt"/>
<circle cx="116.80" cy="465.40" r="2.90" fill="#fff" stroke="#000" stroke-width="1.0"/>
<circle cx="116.80" cy="490.40" r="2.90" fill="#fff" stroke="#000" stroke-width="1.0"/>
<circle cx="116.80" cy="490.90" r="2.90" fill="#fff" stroke="#000" stroke-width="1.0"/>
<circle cx="116.80" cy="504.40" r="2.90" fill="#fff" stroke="#000" stroke-width="1.0"/>
<circle cx="130.20" cy="466.00" r="3.20" fill="#000"/>
<circle cx="130.20" cy="489.20" r="3.20" fill="#000"/>
<circle cx="130.20" cy="492.30" r="3.20" fill="#000"/>
<circle cx="130.20" cy="498.90" r="3.20" fill="#000"/>
<line x1="150.40" y1="434.90" x2="164.20" y2="414.70" stroke="#1a1a1a" stroke-width="0.85" stroke-linecap="butt"/>
<line x1="150.40" y1="462.60" x2="164.20" y2="448.40" stroke="#1a1a1a" stroke-width="0.85" stroke-linecap="butt"/>
<line x1="150.40" y1="465.20" x2="164.20" y2="455.60" stroke="#1a1a1a" stroke-width="0.85" stroke-linecap="butt"/>
<line x1="150.40" y1="491.30" x2="164.20" y2="482.00" stroke="#1a1a1a" stroke-width="0.85" stroke-linecap="butt"/>
<circle cx="150.40" cy="434.90" r="2.90" fill="#fff" stroke="#000" stroke-width="1.0"/>
<circle cx="150.40" cy="462.60" r="2.90" fill="#fff" stroke="#000" stroke-width="1.0"/>
<circle cx="150.40" cy="465.20" r="2.90" fill="#fff" stroke="#000" stroke-width="1.0"/>
<circle cx="150.40" cy="491.30" r="2.90" fill="#fff" stroke="#000" stroke-width="1.0"/>
<circle cx="164.20" cy="414.70" r="3.20" fill="#000"/>
<circle cx="164.20" cy="448.40" r="3.20" fill="#000"/>
<circle cx="164.20" cy="455.60" r="3.20" fill="#000"/>
<circle cx="164.20" cy="482.00" r="3.20" fill="#000"/>
<path d="M81.70,420.10 V417.00 H96.90 V420.10" fill="none" stroke="#000" stroke-width="1.3" stroke-linejoin="miter"/>
<text transform="translate(80.04,415.85) scale(1.062,1)" font-size="18" font-family="Liberation Serif, Times New Roman, serif" fill="#111" stroke="#111" stroke-width="0.25">**</text>
<path d="M115.00,426.30 V422.40 H150.40 V426.30" fill="none" stroke="#000" stroke-width="1.3" stroke-linejoin="miter"/>
<text transform="translate(123.08,422.95) scale(1.025,1)" font-size="18" font-family="Liberation Serif, Times New Roman, serif" fill="#111" stroke="#111" stroke-width="0.25">**</text>
<path d="M148.00,402.90 V399.00 H165.20 V402.90" fill="none" stroke="#000" stroke-width="1.3" stroke-linejoin="miter"/>
<text transform="translate(152.48,399.25) scale(0.972,1)" font-size="18" font-family="Liberation Serif, Times New Roman, serif" fill="#111" stroke="#111" stroke-width="0.25">*</text>
<text transform="translate(36.18,528.00) scale(1.017,1)" font-size="13.9" font-family="Liberation Sans, Arial, Helvetica, sans-serif" font-weight="bold" fill="#000" stroke="#000" stroke-width="0.3">NHS</text>
<text transform="translate(20.94,550.70) scale(1.009,1)" font-size="13.9" font-family="Liberation Sans, Arial, Helvetica, sans-serif" font-weight="bold" fill="#000" stroke="#000" stroke-width="0.3">C3DHS</text>
<text transform="translate(49.15,572.10) scale(0.995,1)" font-size="13.9" font-family="Liberation Sans, Arial, Helvetica, sans-serif" font-weight="bold" fill="#000" stroke="#000" stroke-width="0.3">C3</text>
<text transform="translate(78.68,530.34) scale(1.000,1)" font-size="19.2" font-family="Liberation Sans, Arial, Helvetica, sans-serif" font-weight="bold" fill="#000" stroke="#000" stroke-width="0.3">+</text>
<text transform="translate(91.48,530.34) scale(1.000,1)" font-size="19.2" font-family="Liberation Sans, Arial, Helvetica, sans-serif" font-weight="bold" fill="#000" stroke="#000" stroke-width="0.3">+</text>
<text transform="translate(116.07,530.93) scale(1.000,1)" font-size="20.5" font-family="Liberation Sans, Arial, Helvetica, sans-serif" font-weight="bold" fill="#000" stroke="#000" stroke-width="0.3">-</text>
<text transform="translate(128.97,530.93) scale(1.000,1)" font-size="20.5" font-family="Liberation Sans, Arial, Helvetica, sans-serif" font-weight="bold" fill="#000" stroke="#000" stroke-width="0.3">-</text>
<text transform="translate(149.07,530.93) scale(1.000,1)" font-size="20.5" font-family="Liberation Sans, Arial, Helvetica, sans-serif" font-weight="bold" fill="#000" stroke="#000" stroke-width="0.3">-</text>
<text transform="translate(162.17,530.93) scale(1.000,1)" font-size="20.5" font-family="Liberation Sans, Arial, Helvetica, sans-serif" font-weight="bold" fill="#000" stroke="#000" stroke-width="0.3">-</text>
<text transform="translate(80.87,553.33) scale(1.000,1)" font-size="20.5" font-family="Liberation Sans, Arial, Helvetica, sans-serif" font-weight="bold" fill="#000" stroke="#000" stroke-width="0.3">-</text>
<text transform="translate(93.67,553.33) scale(1.000,1)" font-size="20.5" font-family="Liberation Sans, Arial, Helvetica, sans-serif" font-weight="bold" fill="#000" stroke="#000" stroke-width="0.3">-</text>
<text transform="translate(113.88,552.74) scale(1.000,1)" font-size="19.2" font-family="Liberation Sans, Arial, Helvetica, sans-serif" font-weight="bold" fill="#000" stroke="#000" stroke-width="0.3">+</text>
<text transform="translate(126.78,552.74) scale(1.000,1)" font-size="19.2" font-family="Liberation Sans, Arial, Helvetica, sans-serif" font-weight="bold" fill="#000" stroke="#000" stroke-width="0.3">+</text>
<text transform="translate(146.88,552.74) scale(1.000,1)" font-size="19.2" font-family="Liberation Sans, Arial, Helvetica, sans-serif" font-weight="bold" fill="#000" stroke="#000" stroke-width="0.3">+</text>
<text transform="translate(159.98,552.74) scale(1.000,1)" font-size="19.2" font-family="Liberation Sans, Arial, Helvetica, sans-serif" font-weight="bold" fill="#000" stroke="#000" stroke-width="0.3">+</text>
<text transform="translate(80.87,575.93) scale(1.000,1)" font-size="20.5" font-family="Liberation Sans, Arial, Helvetica, sans-serif" font-weight="bold" fill="#000" stroke="#000" stroke-width="0.3">-</text>
<text transform="translate(93.67,575.93) scale(1.000,1)" font-size="20.5" font-family="Liberation Sans, Arial, Helvetica, sans-serif" font-weight="bold" fill="#000" stroke="#000" stroke-width="0.3">-</text>
<text transform="translate(116.07,575.93) scale(1.000,1)" font-size="20.5" font-family="Liberation Sans, Arial, Helvetica, sans-serif" font-weight="bold" fill="#000" stroke="#000" stroke-width="0.3">-</text>
<text transform="translate(128.97,575.93) scale(1.000,1)" font-size="20.5" font-family="Liberation Sans, Arial, Helvetica, sans-serif" font-weight="bold" fill="#000" stroke="#000" stroke-width="0.3">-</text>
<text transform="translate(146.88,575.34) scale(1.000,1)" font-size="19.2" font-family="Liberation Sans, Arial, Helvetica, sans-serif" font-weight="bold" fill="#000" stroke="#000" stroke-width="0.3">+</text>
<text transform="translate(159.98,575.34) scale(1.000,1)" font-size="19.2" font-family="Liberation Sans, Arial, Helvetica, sans-serif" font-weight="bold" fill="#000" stroke="#000" stroke-width="0.3">+</text>
<line x1="245.20" y1="334.25" x2="245.20" y2="508.15" stroke="#000" stroke-width="1.7" stroke-linecap="butt"/>
<line x1="244.35" y1="507.30" x2="347.20" y2="507.30" stroke="#000" stroke-width="1.7" stroke-linecap="butt"/>
<line x1="240.60" y1="507.30" x2="245.20" y2="507.30" stroke="#000" stroke-width="1.4" stroke-linecap="butt"/>
<text x="233.84" y="511.10" font-size="10.6" letter-spacing="0.5" font-family="Liberation Sans, Arial, Helvetica, sans-serif" font-weight="bold" fill="#000" stroke="#000" stroke-width="0.3">0</text>
<line x1="240.60" y1="488.15" x2="245.20" y2="488.15" stroke="#000" stroke-width="1.4" stroke-linecap="butt"/>
<text x="227.46" y="491.95" font-size="10.6" letter-spacing="0.5" font-family="Liberation Sans, Arial, Helvetica, sans-serif" font-weight="bold" fill="#000" stroke="#000" stroke-width="0.3">50</text>
<line x1="240.60" y1="469.00" x2="245.20" y2="469.00" stroke="#000" stroke-width="1.4" stroke-linecap="butt"/>
<text x="221.07" y="472.80" font-size="10.6" letter-spacing="0.5" font-family="Liberation Sans, Arial, Helvetica, sans-serif" font-weight="bold" fill="#000" stroke="#000" stroke-width="0.3">100</text>
<line x1="240.60" y1="449.85" x2="245.20" y2="449.85" stroke="#000" stroke-width="1.4" stroke-linecap="butt"/>
<text x="221.07" y="453.65" font-size="10.6" letter-spacing="0.5" font-family="Liberation Sans, Arial, Helvetica, sans-serif" font-weight="bold" fill="#000" stroke="#000" stroke-width="0.3">150</text>
<line x1="240.60" y1="430.70" x2="245.20" y2="430.70" stroke="#000" stroke-width="1.4" stroke-linecap="butt"/>
<text x="221.07" y="434.50" font-size="10.6" letter-spacing="0.5" font-family="Liberation Sans, Arial, Helvetica, sans-serif" font-weight="bold" fill="#000" stroke="#000" stroke-width="0.3">200</text>
<line x1="240.60" y1="411.55" x2="245.20" y2="411.55" stroke="#000" stroke-width="1.4" stroke-linecap="butt"/>
<text x="221.07" y="415.35" font-size="10.6" letter-spacing="0.5" font-family="Liberation Sans, Arial, Helvetica, sans-serif" font-weight="bold" fill="#000" stroke="#000" stroke-width="0.3">250</text>
<line x1="240.60" y1="392.40" x2="245.20" y2="392.40" stroke="#000" stroke-width="1.4" stroke-linecap="butt"/>
<text x="221.07" y="396.20" font-size="10.6" letter-spacing="0.5" font-family="Liberation Sans, Arial, Helvetica, sans-serif" font-weight="bold" fill="#000" stroke="#000" stroke-width="0.3">300</text>
<line x1="240.60" y1="373.25" x2="245.20" y2="373.25" stroke="#000" stroke-width="1.4" stroke-linecap="butt"/>
<text x="221.07" y="377.05" font-size="10.6" letter-spacing="0.5" font-family="Liberation Sans, Arial, Helvetica, sans-serif" font-weight="bold" fill="#000" stroke="#000" stroke-width="0.3">350</text>
<line x1="240.60" y1="354.10" x2="245.20" y2="354.10" stroke="#000" stroke-width="1.4" stroke-linecap="butt"/>
<text x="221.07" y="357.90" font-size="10.6" letter-spacing="0.5" font-family="Liberation Sans, Arial, Helvetica, sans-serif" font-weight="bold" fill="#000" stroke="#000" stroke-width="0.3">400</text>
<line x1="240.60" y1="334.95" x2="245.20" y2="334.95" stroke="#000" stroke-width="1.4" stroke-linecap="butt"/>
<text x="221.07" y="338.75" font-size="10.6" letter-spacing="0.5" font-family="Liberation Sans, Arial, Helvetica, sans-serif" font-weight="bold" fill="#000" stroke="#000" stroke-width="0.3">450</text>
<line x1="255.40" y1="434.90" x2="269.00" y2="416.40" stroke="#1a1a1a" stroke-width="0.85" stroke-linecap="butt"/>
<line x1="255.40" y1="444.40" x2="269.00" y2="427.60" stroke="#1a1a1a" stroke-width="0.85" stroke-linecap="butt"/>
<line x1="255.40" y1="457.30" x2="269.00" y2="443.10" stroke="#1a1a1a" stroke-width="0.85" stroke-linecap="butt"/>
<circle cx="255.40" cy="434.90" r="2.90" fill="#fff" stroke="#000" stroke-width="1.0"/>
<circle cx="255.40" cy="444.40" r="2.90" fill="#fff" stroke="#000" stroke-width="1.0"/>
<circle cx="255.40" cy="457.30" r="2.90" fill="#fff" stroke="#000" stroke-width="1.0"/>
<circle cx="269.00" cy="416.40" r="3.20" fill="#000"/>
<circle cx="269.00" cy="427.60" r="3.20" fill="#000"/>
<circle cx="269.00" cy="443.10" r="3.20" fill="#000"/>
<line x1="289.10" y1="405.10" x2="303.00" y2="374.50" stroke="#1a1a1a" stroke-width="0.85" stroke-linecap="butt"/>
<line x1="289.10" y1="433.20" x2="303.00" y2="422.60" stroke="#1a1a1a" stroke-width="0.85" stroke-linecap="butt"/>
<line x1="289.10" y1="444.40" x2="303.00" y2="426.60" stroke="#1a1a1a" stroke-width="0.85" stroke-linecap="butt"/>
<line x1="289.10" y1="464.20" x2="303.00" y2="455.00" stroke="#1a1a1a" stroke-width="0.85" stroke-linecap="butt"/>
<circle cx="289.10" cy="405.10" r="2.90" fill="#fff" stroke="#000" stroke-width="1.0"/>
<circle cx="289.10" cy="433.20" r="2.90" fill="#fff" stroke="#000" stroke-width="1.0"/>
<circle cx="289.10" cy="444.40" r="2.90" fill="#fff" stroke="#000" stroke-width="1.0"/>
<circle cx="289.10" cy="464.20" r="2.90" fill="#fff" stroke="#000" stroke-width="1.0"/>
<circle cx="303.00" cy="374.50" r="3.20" fill="#000"/>
<circle cx="303.00" cy="422.60" r="3.20" fill="#000"/>
<circle cx="303.00" cy="426.60" r="3.20" fill="#000"/>
<circle cx="303.00" cy="455.00" r="3.20" fill="#000"/>
<line x1="323.80" y1="366.20" x2="337.00" y2="352.30" stroke="#1a1a1a" stroke-width="0.85" stroke-linecap="butt"/>
<line x1="323.80" y1="428.90" x2="337.00" y2="414.10" stroke="#1a1a1a" stroke-width="0.85" stroke-linecap="butt"/>
<line x1="323.80" y1="433.20" x2="337.00" y2="417.70" stroke="#1a1a1a" stroke-width="0.85" stroke-linecap="butt"/>
<line x1="323.80" y1="453.70" x2="337.00" y2="445.40" stroke="#1a1a1a" stroke-width="0.85" stroke-linecap="butt"/>
<circle cx="323.80" cy="366.20" r="2.90" fill="#fff" stroke="#000" stroke-width="1.0"/>
<circle cx="323.80" cy="428.90" r="2.90" fill="#fff" stroke="#000" stroke-width="1.0"/>
<circle cx="323.80" cy="433.20" r="2.90" fill="#fff" stroke="#000" stroke-width="1.0"/>
<circle cx="323.80" cy="453.70" r="2.90" fill="#fff" stroke="#000" stroke-width="1.0"/>
<circle cx="337.00" cy="352.30" r="3.20" fill="#000"/>
<circle cx="337.00" cy="414.10" r="3.20" fill="#000"/>
<circle cx="337.00" cy="417.70" r="3.20" fill="#000"/>
<circle cx="337.00" cy="445.40" r="3.20" fill="#000"/>
<path d="M253.50,405.80 V402.10 H268.60 V405.80" fill="none" stroke="#000" stroke-width="1.3" stroke-linejoin="miter"/>
<text transform="translate(251.58,401.50) scale(1.019,1)" font-size="18" font-family="Liberation Serif, Times New Roman, serif" fill="#111" stroke="#111" stroke-width="0.25">**</text>
<path d="M288.40,367.40 V363.20 H304.00 V367.40" fill="none" stroke="#000" stroke-width="1.3" stroke-linejoin="miter"/>
<text transform="translate(291.92,364.50) scale(0.972,1)" font-size="18" font-family="Liberation Serif, Times New Roman, serif" fill="#111" stroke="#111" stroke-width="0.25">*</text>
<path d="M288.40,349.60 V345.70 H322.80 V349.60" fill="none" stroke="#000" stroke-width="1.3" stroke-linejoin="miter"/>
<text transform="translate(298.15,341.70) scale(1.093,1)" font-size="12.0" font-family="Liberation Sans, Arial, Helvetica, sans-serif" font-weight="bold" fill="#000" stroke="#000" stroke-width="0.3">ns</text>
<path d="M322.80,337.70 V334.20 H337.00 V337.70" fill="none" stroke="#000" stroke-width="1.3" stroke-linejoin="miter"/>
<text transform="translate(325.62,335.11) scale(0.972,1)" font-size="18" font-family="Liberation Serif, Times New Roman, serif" fill="#111" stroke="#111" stroke-width="0.25">*</text>
<text transform="translate(207.48,526.50) scale(1.017,1)" font-size="13.9" font-family="Liberation Sans, Arial, Helvetica, sans-serif" font-weight="bold" fill="#000" stroke="#000" stroke-width="0.3">NHS</text>
<text transform="translate(192.34,549.00) scale(1.016,1)" font-size="13.9" font-family="Liberation Sans, Arial, Helvetica, sans-serif" font-weight="bold" fill="#000" stroke="#000" stroke-width="0.3">C5DHS</text>
<text transform="translate(220.15,571.30) scale(0.987,1)" font-size="13.9" font-family="Liberation Sans, Arial, Helvetica, sans-serif" font-weight="bold" fill="#000" stroke="#000" stroke-width="0.3">C5</text>
<text transform="translate(249.98,528.84) scale(1.000,1)" font-size="19.2" font-family="Liberation Sans, Arial, Helvetica, sans-serif" font-weight="bold" fill="#000" stroke="#000" stroke-width="0.3">+</text>
<text transform="translate(262.68,528.84) scale(1.000,1)" font-size="19.2" font-family="Liberation Sans, Arial, Helvetica, sans-serif" font-weight="bold" fill="#000" stroke="#000" stroke-width="0.3">+</text>
<text transform="translate(286.97,529.43) scale(1.000,1)" font-size="20.5" font-family="Liberation Sans, Arial, Helvetica, sans-serif" font-weight="bold" fill="#000" stroke="#000" stroke-width="0.3">-</text>
<text transform="translate(300.07,529.43) scale(1.000,1)" font-size="20.5" font-family="Liberation Sans, Arial, Helvetica, sans-serif" font-weight="bold" fill="#000" stroke="#000" stroke-width="0.3">-</text>
<text transform="translate(319.87,529.43) scale(1.000,1)" font-size="20.5" font-family="Liberation Sans, Arial, Helvetica, sans-serif" font-weight="bold" fill="#000" stroke="#000" stroke-width="0.3">-</text>
<text transform="translate(333.77,529.43) scale(1.000,1)" font-size="20.5" font-family="Liberation Sans, Arial, Helvetica, sans-serif" font-weight="bold" fill="#000" stroke="#000" stroke-width="0.3">-</text>
<text transform="translate(252.17,552.23) scale(1.000,1)" font-size="20.5" font-family="Liberation Sans, Arial, Helvetica, sans-serif" font-weight="bold" fill="#000" stroke="#000" stroke-width="0.3">-</text>
<text transform="translate(264.87,552.23) scale(1.000,1)" font-size="20.5" font-family="Liberation Sans, Arial, Helvetica, sans-serif" font-weight="bold" fill="#000" stroke="#000" stroke-width="0.3">-</text>
<text transform="translate(284.78,551.64) scale(1.000,1)" font-size="19.2" font-family="Liberation Sans, Arial, Helvetica, sans-serif" font-weight="bold" fill="#000" stroke="#000" stroke-width="0.3">+</text>
<text transform="translate(297.88,551.64) scale(1.000,1)" font-size="19.2" font-family="Liberation Sans, Arial, Helvetica, sans-serif" font-weight="bold" fill="#000" stroke="#000" stroke-width="0.3">+</text>
<text transform="translate(317.68,551.64) scale(1.000,1)" font-size="19.2" font-family="Liberation Sans, Arial, Helvetica, sans-serif" font-weight="bold" fill="#000" stroke="#000" stroke-width="0.3">+</text>
<text transform="translate(331.58,551.64) scale(1.000,1)" font-size="19.2" font-family="Liberation Sans, Arial, Helvetica, sans-serif" font-weight="bold" fill="#000" stroke="#000" stroke-width="0.3">+</text>
<text transform="translate(252.17,574.93) scale(1.000,1)" font-size="20.5" font-family="Liberation Sans, Arial, Helvetica, sans-serif" font-weight="bold" fill="#000" stroke="#000" stroke-width="0.3">-</text>
<text transform="translate(264.87,574.93) scale(1.000,1)" font-size="20.5" font-family="Liberation Sans, Arial, Helvetica, sans-serif" font-weight="bold" fill="#000" stroke="#000" stroke-width="0.3">-</text>
<text transform="translate(286.97,574.93) scale(1.000,1)" font-size="20.5" font-family="Liberation Sans, Arial, Helvetica, sans-serif" font-weight="bold" fill="#000" stroke="#000" stroke-width="0.3">-</text>
<text transform="translate(300.07,574.93) scale(1.000,1)" font-size="20.5" font-family="Liberation Sans, Arial, Helvetica, sans-serif" font-weight="bold" fill="#000" stroke="#000" stroke-width="0.3">-</text>
<text transform="translate(317.68,574.34) scale(1.000,1)" font-size="19.2" font-family="Liberation Sans, Arial, Helvetica, sans-serif" font-weight="bold" fill="#000" stroke="#000" stroke-width="0.3">+</text>
<text transform="translate(331.58,574.34) scale(1.000,1)" font-size="19.2" font-family="Liberation Sans, Arial, Helvetica, sans-serif" font-weight="bold" fill="#000" stroke="#000" stroke-width="0.3">+</text>
<line x1="417.20" y1="335.95" x2="417.20" y2="508.15" stroke="#000" stroke-width="1.7" stroke-linecap="butt"/>
<line x1="416.35" y1="507.30" x2="491.60" y2="507.30" stroke="#000" stroke-width="1.7" stroke-linecap="butt"/>
<line x1="412.60" y1="507.30" x2="417.20" y2="507.30" stroke="#000" stroke-width="1.4" stroke-linecap="butt"/>
<text x="405.84" y="511.10" font-size="10.6" letter-spacing="0.5" font-family="Liberation Sans, Arial, Helvetica, sans-serif" font-weight="bold" fill="#000" stroke="#000" stroke-width="0.3">0</text>
<line x1="412.60" y1="488.34" x2="417.20" y2="488.34" stroke="#000" stroke-width="1.4" stroke-linecap="butt"/>
<text x="399.46" y="492.14" font-size="10.6" letter-spacing="0.5" font-family="Liberation Sans, Arial, Helvetica, sans-serif" font-weight="bold" fill="#000" stroke="#000" stroke-width="0.3">50</text>
<line x1="412.60" y1="469.38" x2="417.20" y2="469.38" stroke="#000" stroke-width="1.4" stroke-linecap="butt"/>
<text x="393.07" y="473.18" font-size="10.6" letter-spacing="0.5" font-family="Liberation Sans, Arial, Helvetica, sans-serif" font-weight="bold" fill="#000" stroke="#000" stroke-width="0.3">100</text>
<line x1="412.60" y1="450.42" x2="417.20" y2="450.42" stroke="#000" stroke-width="1.4" stroke-linecap="butt"/>
<text x="393.07" y="454.22" font-size="10.6" letter-spacing="0.5" font-family="Liberation Sans, Arial, Helvetica, sans-serif" font-weight="bold" fill="#000" stroke="#000" stroke-width="0.3">150</text>
<line x1="412.60" y1="431.46" x2="417.20" y2="431.46" stroke="#000" stroke-width="1.4" stroke-linecap="butt"/>
<text x="393.08" y="435.26" font-size="10.6" letter-spacing="0.5" font-family="Liberation Sans, Arial, Helvetica, sans-serif" font-weight="bold" fill="#000" stroke="#000" stroke-width="0.3">200</text>
<line x1="412.60" y1="412.49" x2="417.20" y2="412.49" stroke="#000" stroke-width="1.4" stroke-linecap="butt"/>
<text x="393.08" y="416.29" font-size="10.6" letter-spacing="0.5" font-family="Liberation Sans, Arial, Helvetica, sans-serif" font-weight="bold" fill="#000" stroke="#000" stroke-width="0.3">250</text>
<line x1="412.60" y1="393.53" x2="417.20" y2="393.53" stroke="#000" stroke-width="1.4" stroke-linecap="butt"/>
<text x="393.08" y="397.33" font-size="10.6" letter-spacing="0.5" font-family="Liberation Sans, Arial, Helvetica, sans-serif" font-weight="bold" fill="#000" stroke="#000" stroke-width="0.3">300</text>
<line x1="412.60" y1="374.57" x2="417.20" y2="374.57" stroke="#000" stroke-width="1.4" stroke-linecap="butt"/>
<text x="393.08" y="378.37" font-size="10.6" letter-spacing="0.5" font-family="Liberation Sans, Arial, Helvetica, sans-serif" font-weight="bold" fill="#000" stroke="#000" stroke-width="0.3">350</text>
<line x1="412.60" y1="355.61" x2="417.20" y2="355.61" stroke="#000" stroke-width="1.4" stroke-linecap="butt"/>
<text x="393.08" y="359.41" font-size="10.6" letter-spacing="0.5" font-family="Liberation Sans, Arial, Helvetica, sans-serif" font-weight="bold" fill="#000" stroke="#000" stroke-width="0.3">400</text>
<line x1="412.60" y1="336.65" x2="417.20" y2="336.65" stroke="#000" stroke-width="1.4" stroke-linecap="butt"/>
<text x="393.08" y="340.45" font-size="10.6" letter-spacing="0.5" font-family="Liberation Sans, Arial, Helvetica, sans-serif" font-weight="bold" fill="#000" stroke="#000" stroke-width="0.3">450</text>
<text transform="translate(379.80,473.41) rotate(-90) scale(1.047,1)" font-size="10.4" font-family="Liberation Sans, Arial, Helvetica, sans-serif" font-weight="bold" fill="#000" stroke="#000" stroke-width="0.3">PHAGOCYTIC INDEX</text>
<line x1="428.60" y1="398.80" x2="443.20" y2="370.80" stroke="#1a1a1a" stroke-width="0.85" stroke-linecap="butt"/>
<line x1="428.60" y1="406.30" x2="443.20" y2="390.10" stroke="#1a1a1a" stroke-width="0.85" stroke-linecap="butt"/>
<line x1="428.60" y1="413.40" x2="443.20" y2="401.00" stroke="#1a1a1a" stroke-width="0.85" stroke-linecap="butt"/>
<line x1="428.60" y1="418.70" x2="443.20" y2="352.20" stroke="#1a1a1a" stroke-width="0.85" stroke-linecap="butt"/>
<line x1="428.60" y1="462.00" x2="443.20" y2="445.60" stroke="#1a1a1a" stroke-width="0.85" stroke-linecap="butt"/>
<circle cx="428.60" cy="398.80" r="2.90" fill="#fff" stroke="#000" stroke-width="1.0"/>
<circle cx="428.60" cy="406.30" r="2.90" fill="#fff" stroke="#000" stroke-width="1.0"/>
<circle cx="428.60" cy="413.40" r="2.90" fill="#fff" stroke="#000" stroke-width="1.0"/>
<circle cx="428.60" cy="418.70" r="2.90" fill="#fff" stroke="#000" stroke-width="1.0"/>
<circle cx="428.60" cy="462.00" r="2.90" fill="#fff" stroke="#000" stroke-width="1.0"/>
<circle cx="443.20" cy="370.80" r="3.20" fill="#000"/>
<circle cx="443.20" cy="390.10" r="3.20" fill="#000"/>
<circle cx="443.20" cy="401.00" r="3.20" fill="#000"/>
<circle cx="443.20" cy="352.20" r="3.20" fill="#000"/>
<circle cx="443.20" cy="445.60" r="3.20" fill="#000"/>
<line x1="465.60" y1="407.70" x2="479.80" y2="383.60" stroke="#1a1a1a" stroke-width="0.85" stroke-linecap="butt"/>
<line x1="465.60" y1="410.00" x2="479.80" y2="391.20" stroke="#1a1a1a" stroke-width="0.85" stroke-linecap="butt"/>
<line x1="465.60" y1="456.90" x2="479.80" y2="430.80" stroke="#1a1a1a" stroke-width="0.85" stroke-linecap="butt"/>
<circle cx="465.60" cy="407.70" r="2.90" fill="#fff" stroke="#000" stroke-width="1.0"/>
<circle cx="465.60" cy="410.00" r="2.90" fill="#fff" stroke="#000" stroke-width="1.0"/>
<circle cx="465.60" cy="456.90" r="2.90" fill="#fff" stroke="#000" stroke-width="1.0"/>
<circle cx="479.80" cy="383.60" r="3.20" fill="#000"/>
<circle cx="479.80" cy="391.20" r="3.20" fill="#000"/>
<circle cx="479.80" cy="430.80" r="3.20" fill="#000"/>
<path d="M428.60,345.40 V341.80 H443.50 V345.40" fill="none" stroke="#000" stroke-width="1.3" stroke-linejoin="miter"/>
<text transform="translate(431.73,340.70) scale(0.972,1)" font-size="18" font-family="Liberation Serif, Times New Roman, serif" fill="#111" stroke="#111" stroke-width="0.25">*</text>
<path d="M465.60,375.10 V371.50 H480.50 V375.10" fill="none" stroke="#000" stroke-width="1.3" stroke-linejoin="miter"/>
<text transform="translate(469.02,369.85) scale(0.972,1)" font-size="18" font-family="Liberation Serif, Times New Roman, serif" fill="#111" stroke="#111" stroke-width="0.25">*</text>
<text transform="translate(380.18,526.30) scale(1.013,1)" font-size="13.9" font-family="Liberation Sans, Arial, Helvetica, sans-serif" font-weight="bold" fill="#000" stroke="#000" stroke-width="0.3">NHS</text>
<text transform="translate(385.72,549.30) scale(1.097,1)" font-size="13.9" font-family="Liberation Sans, Arial, Helvetica, sans-serif" font-weight="bold" fill="#000" stroke="#000" stroke-width="0.3">A.P.</text>
<text transform="translate(422.84,525.94) scale(1.000,1)" font-size="18" font-family="Liberation Sans, Arial, Helvetica, sans-serif" font-weight="bold" fill="#000" stroke="#000" stroke-width="0.3">+</text>
<text transform="translate(438.13,525.94) scale(1.000,1)" font-size="18" font-family="Liberation Sans, Arial, Helvetica, sans-serif" font-weight="bold" fill="#000" stroke="#000" stroke-width="0.3">+</text>
<text transform="translate(461.87,526.33) scale(1.000,1)" font-size="20.5" font-family="Liberation Sans, Arial, Helvetica, sans-serif" font-weight="bold" fill="#000" stroke="#000" stroke-width="0.3">-</text>
<text transform="translate(476.97,526.33) scale(1.000,1)" font-size="20.5" font-family="Liberation Sans, Arial, Helvetica, sans-serif" font-weight="bold" fill="#000" stroke="#000" stroke-width="0.3">-</text>
<text transform="translate(424.67,549.53) scale(1.000,1)" font-size="20.5" font-family="Liberation Sans, Arial, Helvetica, sans-serif" font-weight="bold" fill="#000" stroke="#000" stroke-width="0.3">-</text>
<text transform="translate(439.97,549.53) scale(1.000,1)" font-size="20.5" font-family="Liberation Sans, Arial, Helvetica, sans-serif" font-weight="bold" fill="#000" stroke="#000" stroke-width="0.3">-</text>
<text transform="translate(460.04,549.14) scale(1.000,1)" font-size="18" font-family="Liberation Sans, Arial, Helvetica, sans-serif" font-weight="bold" fill="#000" stroke="#000" stroke-width="0.3">+</text>
<text transform="translate(475.13,549.14) scale(1.000,1)" font-size="18" font-family="Liberation Sans, Arial, Helvetica, sans-serif" font-weight="bold" fill="#000" stroke="#000" stroke-width="0.3">+</text>
<text transform="translate(4.92,13.70) scale(1.196,1)" font-size="12.6" font-family="Liberation Sans, Arial, Helvetica, sans-serif" font-weight="bold" fill="#000" stroke="#000" stroke-width="0.8">A</text>
<text transform="translate(370.37,322.00) scale(0.961,1)" font-size="13.3" font-family="Liberation Sans, Arial, Helvetica, sans-serif" font-weight="bold" fill="#000" stroke="#000" stroke-width="0.5">B</text>
<text transform="translate(43.66,22.80) scale(1.045,1)" font-size="10.6" font-family="Liberation Sans, Arial, Helvetica, sans-serif" font-weight="bold" fill="#000" stroke="#000" stroke-width="0.3">CTR</text>
<text transform="translate(43.38,38.10) scale(1.042,1)" font-size="10.6" font-family="Liberation Sans, Arial, Helvetica, sans-serif" font-weight="bold" fill="#000" stroke="#000" stroke-width="0.3">PTX3</text>
<circle cx="30.30" cy="18.50" r="2.90" fill="#fff" stroke="#000" stroke-width="0.95"/>
<circle cx="30.40" cy="33.40" r="2.90" fill="#000"/>
</g>
</svg></body></html>
